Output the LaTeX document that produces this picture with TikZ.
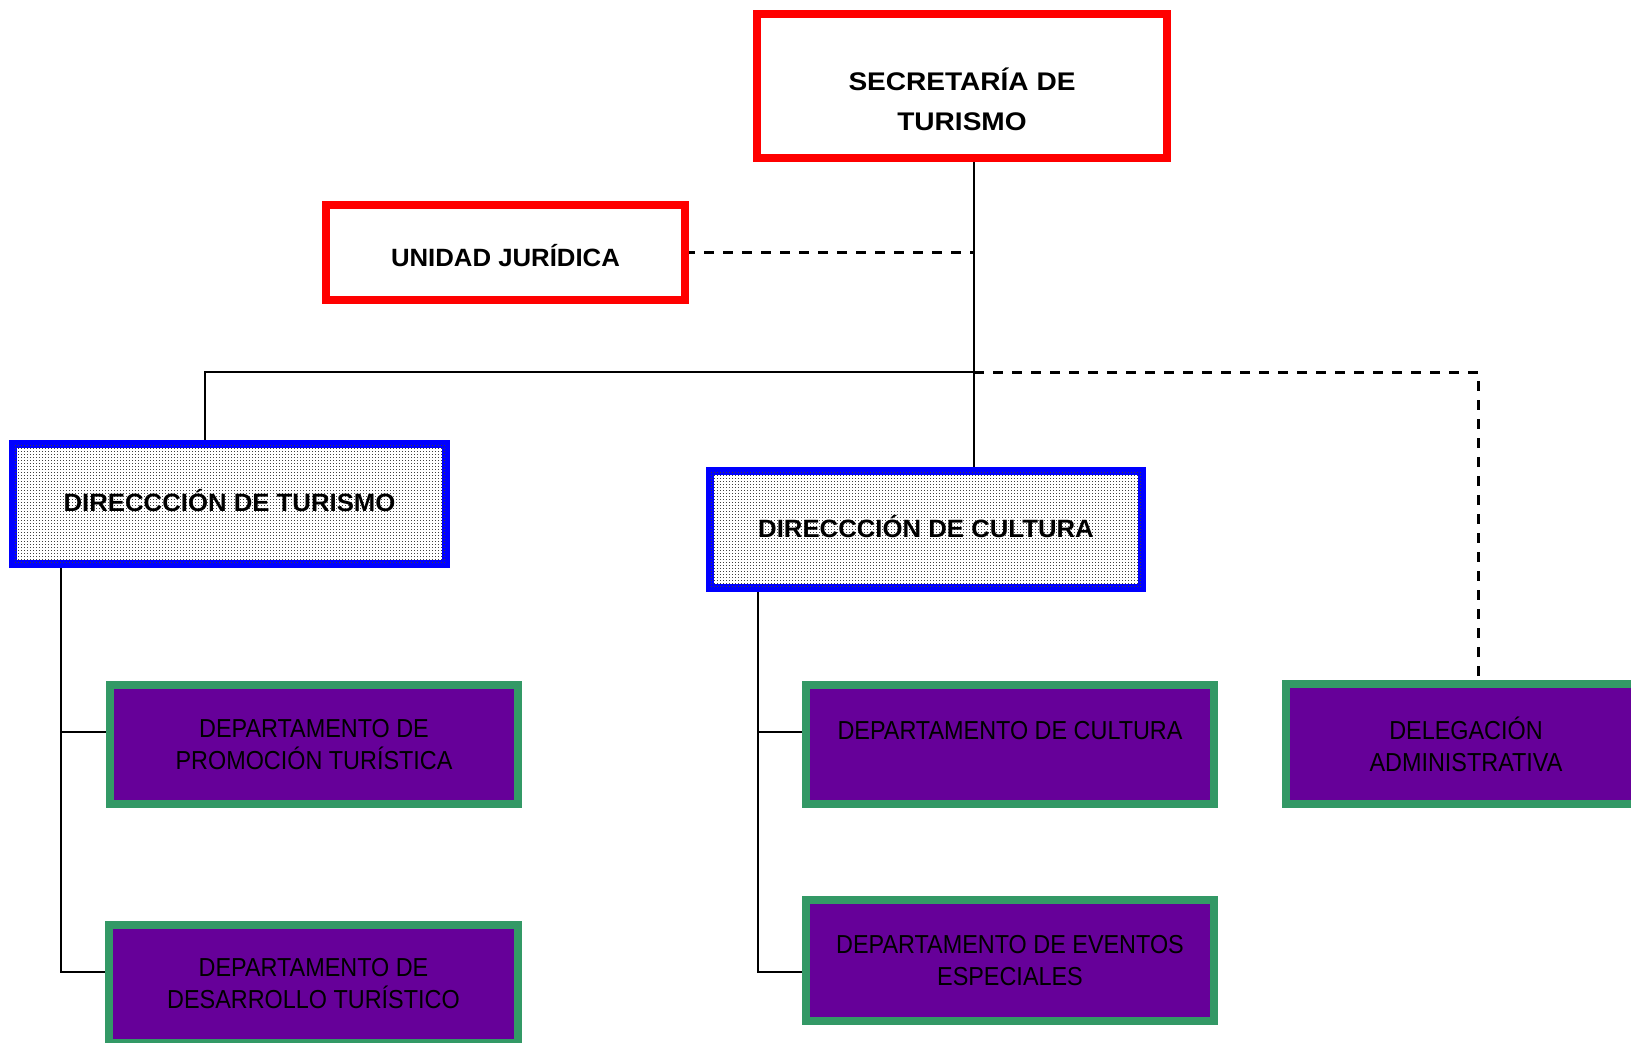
\documentclass[tikz,border=0pt]{standalone}
\usepackage{fontspec}
\setmainfont{Liberation Sans}
\newfontfamily\hdrfont{Liberation Sans}[FakeStretch=1.03]
\newfontfamily\secfont{Liberation Sans}[FakeStretch=1.1]
\newfontfamily\deptfont{Liberation Sans}[FakeStretch=0.9]
\usetikzlibrary{patterns,backgrounds,calc}
\definecolor{redb}{HTML}{FF0000}
\definecolor{blueb}{HTML}{0000FF}
\definecolor{greenb}{HTML}{339966}
\definecolor{purpleb}{HTML}{660099}
\pgfdeclarepatternformonly{refdots}{\pgfqpoint{0pt}{0pt}}{\pgfqpoint{3pt}{3pt}}{\pgfqpoint{3pt}{3pt}}{%
  \pgfpathrectangle{\pgfqpoint{0pt}{0pt}}{\pgfqpoint{1.1pt}{1.1pt}}\pgfusepath{fill}}
\newcommand{\shiftup}[2]{\raisebox{#1}[\height][\depth]{#2}}
\begin{document}
\begin{tikzpicture}[x=1pt,y=-1pt,
  box/.style={draw, line width=8pt, outer sep=0pt, inner sep=0pt, align=center},
  hdrtext/.style={font=\hdrfont\bfseries\fontsize{25}{40}\selectfont, align=center, inner sep=0pt},
  sectext/.style={font=\secfont\bfseries\fontsize{25.5}{40}\selectfont, align=center, inner sep=0pt},
  redbox/.style={box, draw=redb, fill=white, hdrtext},
  bluebox/.style={box, draw=blueb, fill=white, postaction={pattern=refdots, pattern color=black!75}, hdrtext},
  deptbox/.style={box, draw=greenb, fill=purpleb, text=black, font=\deptfont\fontsize{26}{32}\selectfont},
  conn/.style={line width=1.9pt, black},
  dconn/.style={line width=3pt, black, dash pattern=on 10pt off 9pt},
]
\useasboundingbox (0,0) rectangle (1631,1043);
\clip (0,0) rectangle (1631,1043);

% boxes
\node[redbox, minimum width=410pt, minimum height=144pt] (sec) at (962,86) {};
\node[sectext] (sectxt) at (962,99) {SECRETARÍA DE\\TURISMO};
\node[redbox, minimum width=359pt, minimum height=95pt] (uj) at (505.5,252.5) {\shiftup{-3pt}{UNIDAD JURÍDICA}};
\node[bluebox, minimum width=433pt, minimum height=120pt] (dt) at (229.5,504) {\shiftup{3pt}{DIRECCCIÓN DE TURISMO}};
\node[bluebox, minimum width=432pt, minimum height=117pt] (dc) at (926,529.5) {\shiftup{3pt}{DIRECCCIÓN DE CULTURA}};
\node[deptbox, minimum width=408pt, minimum height=119pt] (dpt) at (314,744.5) {DEPARTAMENTO DE\\PROMOCIÓN TURÍSTICA};
\node[deptbox, minimum width=409pt, minimum height=118pt] (ddt) at (313.5,984) {DEPARTAMENTO DE\\DESARROLLO TURÍSTICO};
\node[deptbox, minimum width=408pt, minimum height=119pt] (dcu) at (1010,744.5) {\shiftup{14pt}{DEPARTAMENTO DE CULTURA}};
\node[deptbox, minimum width=408pt, minimum height=121pt] (dee) at (1010,960.5) {DEPARTAMENTO DE EVENTOS\\ESPECIALES};
\node[deptbox, minimum width=360pt, minimum height=120pt] (dad) at (1466,744) {DELEGACIÓN\\ADMINISTRATIVA};

% junction coordinates
\coordinate (trunk) at (974,372);
\coordinate (lt) at (205,372);
\coordinate (rt) at (1478,372);
\coordinate (lv) at (61,568);
\coordinate (lb1) at (61,732);
\coordinate (lb2) at (61,972);
\coordinate (cv) at (758,592);
\coordinate (cb1) at (758,732);
\coordinate (cb2) at (758,972);

\begin{scope}[on background layer]
  \draw[conn] (sec.south -| trunk) -- (dc.north -| trunk);
  \draw[conn] (trunk) -- (lt) -- (lt |- dt.north);
  \draw[dconn] (uj.east) -- (uj.east -| trunk);
  \draw[dconn] (trunk) -- (rt) -- (rt |- dad.north);
  \draw[conn] (dt.south -| lv) -- (lb2) -- (lb2 -| ddt.west);
  \draw[conn] (lb1) -- (lb1 -| dpt.west);
  \draw[conn] (dc.south -| cv) -- (cb2) -- (cb2 -| dee.west);
  \draw[conn] (cb1) -- (cb1 -| dcu.west);
\end{scope}
\end{tikzpicture}
\end{document}
